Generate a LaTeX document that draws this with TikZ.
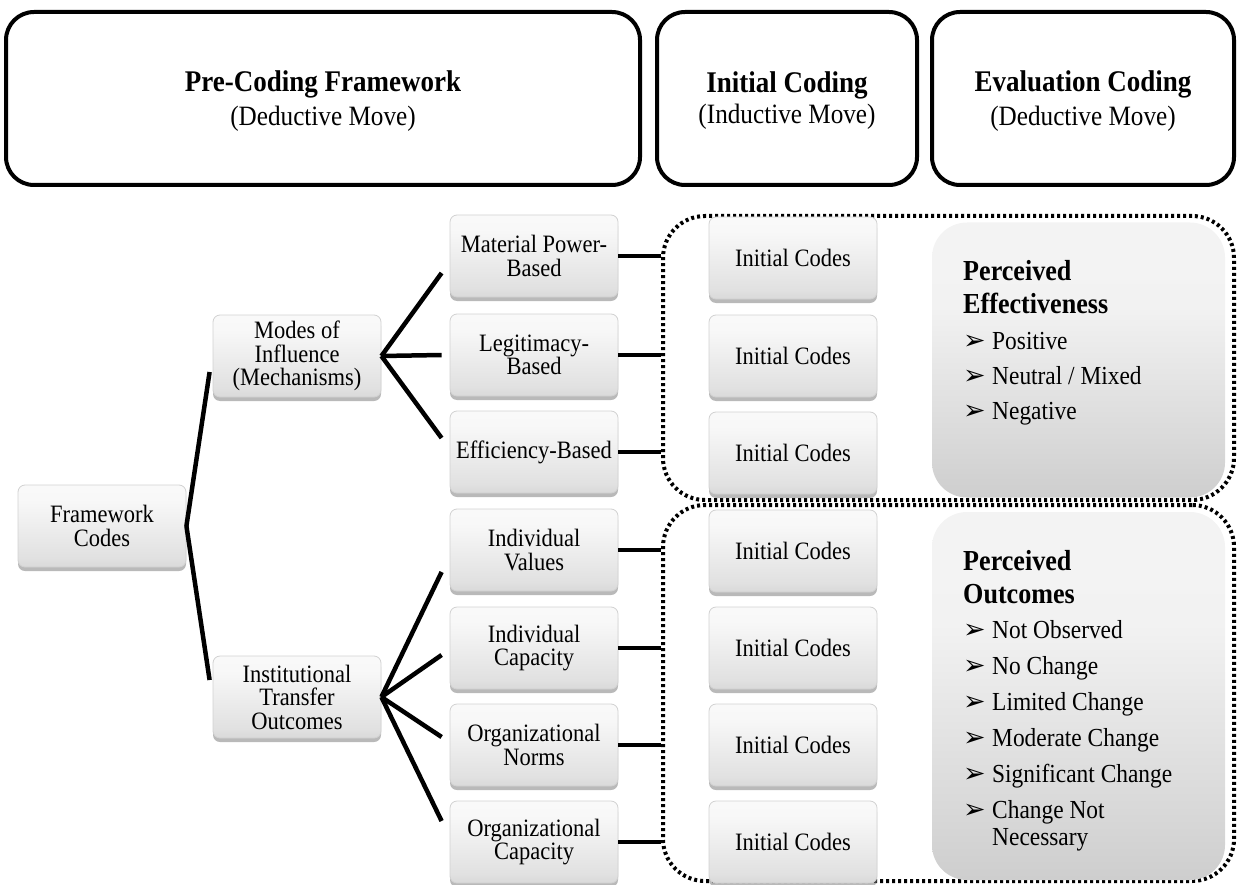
\documentclass[tikz,border=0pt]{standalone}
\usepackage{fontspec}
\setmainfont[FakeStretch=0.9]{Liberation Serif}
\newfontfamily\dejavu{DejaVu Sans}
\usetikzlibrary{shadows,calc}
\pgfdeclareverticalshading{boxfade}{100bp}{color(0bp)=(black!30); color(30bp)=(black!12); color(65bp)=(black!3); color(100bp)=(white)}
\pgfdeclareverticalshading{grayfade}{100bp}{color(0bp)=(black!30); color(35bp)=(black!15); color(60bp)=(black!5); color(100bp)=(black!4)}
\newcommand\bulletarrow{\makebox[29pt][l]{\dejavu\fontsize{27}{27}\selectfont ➢}}
\tikzset{
  hdr/.style={draw, line width=4pt, rounded corners=28pt, align=center, inner sep=0pt},
  cbox/.style={rounded corners=7pt, draw=black!18, line width=0.8pt, shade, shading=boxfade,
    drop shadow={shadow xshift=0pt, shadow yshift=-4pt, fill=black!50, opacity=0.55},
    minimum width=168pt, minimum height=82pt, inner sep=1pt, align=center,
    font=\fontsize{25}{23.5}\selectfont},
  link/.style={line width=4.5pt},
  zone/.style={draw, line width=4pt, dash pattern=on 3pt off 3pt, rounded corners=42pt, inner sep=0pt},
  evalbox/.style={rounded corners=35pt, shade, shading=grayfade, inner sep=0pt},
  ttl/.style={anchor=base west, inner sep=0pt, font=\fontsize{29}{29}\selectfont\bfseries},
  itm/.style={anchor=base west, inner sep=0pt, font=\fontsize{26}{26}\selectfont},
}
\begin{document}
\begin{tikzpicture}[x=1pt,y=-1pt]
\useasboundingbox (0,0) rectangle (1238,885);

% header boxes
\node[hdr, minimum width=634pt, minimum height=173pt, font=\fontsize{28}{34}\selectfont] (h1) at (323,98.5)
  {{\fontsize{30}{34}\selectfont\bfseries\rule{0pt}{26pt}Pre-Coding Framework}\\(Deductive Move)};
\node[hdr, minimum width=260pt, minimum height=173pt, font=\fontsize{28}{31}\selectfont] (h2) at (787,98.5)
  {{\fontsize{30}{31}\selectfont\bfseries\rule{0pt}{25pt}Initial Coding}\\(Inductive Move)};
\node[hdr, minimum width=302pt, minimum height=173pt, font=\fontsize{28}{34}\selectfont] (h3) at (1083,98.5)
  {{\fontsize{30}{34}\selectfont\bfseries\rule{0pt}{26pt}Evaluation Coding}\\(Deductive Move)};

% dotted zones
\node[zone, minimum width=571pt, minimum height=284pt] (up) at (948.5,358) {};
\node[zone, minimum width=571pt, minimum height=376pt] (lo) at (948.5,693) {};

% evaluation boxes
\node[evalbox, minimum width=293pt, minimum height=275pt] (ev1) at (1078.5,360) {};
\node[evalbox, minimum width=293pt, minimum height=368pt] (ev2) at (1078.5,696) {};

\node[ttl] (t1a) at (963,280) {Perceived};
\node[ttl] (t1b) at (963,313) {Effectiveness};
\node[itm] (i1a) at (963,349) {\bulletarrow Positive};
\node[itm] (i1b) at (963,384) {\bulletarrow Neutral / Mixed};
\node[itm] (i1c) at (963,419) {\bulletarrow Negative};

\node[ttl] (t2a) at (963,570) {Perceived};
\node[ttl] (t2b) at (963,603) {Outcomes};
\node[itm] (i2a) at (963,638) {\bulletarrow Not Observed};
\node[itm] (i2b) at (963,674) {\bulletarrow No Change};
\node[itm] (i2c) at (963,710) {\bulletarrow Limited Change};
\node[itm] (i2d) at (963,746) {\bulletarrow Moderate Change};
\node[itm] (i2e) at (963,782) {\bulletarrow Significant Change};
\node[itm] (i2f) at (963,818) {\bulletarrow Change Not};
\node[itm] (i2g) at (992,845) {Necessary};

% tree
\node[cbox] (fc) at (102,526) {Framework\\Codes};
\node[cbox] (mod) at (297,356) {Modes of\\Influence\\(Mechanisms)};
\node[cbox] (ito) at (297,697) {Institutional\\Transfer\\Outcomes};

\node[cbox] (mp) at (534,256) {Material Power-\\Based};
\node[cbox] (lg) at (534,355) {Legitimacy-\\Based};
\node[cbox] (ef) at (534,452) {Efficiency-Based};
\node[cbox] (iv) at (534,550) {Individual\\Values};
\node[cbox] (ic) at (534,648) {Individual\\Capacity};
\node[cbox] (on) at (534,745) {Organizational\\Norms};
\node[cbox] (oc) at (534,842) {Organizational\\Capacity};

\foreach \n/\yy in {c1/258,c2/356,c3/453,c4/551,c5/648,c6/745,c7/842}
  \node[cbox] (\n) at (793,\yy) {Initial Codes};

% connectors
\draw[link] (fc.east) -- ($(mod.west)+(-3,16)$);
\draw[link] (fc.east) -- ($(ito.west)+(-3,-17)$);
\draw[link] (mod.east) -- ($(mp.west)+(-8,17)$);
\draw[link] (mod.east) -- ($(lg.west)+(-8,0)$);
\draw[link] (mod.east) -- ($(ef.west)+(-8,-14)$);
\draw[link] (ito.east) -- ($(iv.west)+(-8,22)$);
\draw[link] (ito.east) -- ($(ic.west)+(-8,7)$);
\draw[link] (ito.east) -- ($(on.west)+(-8,-8)$);
\draw[link] (ito.east) -- ($(oc.west)+(-8,-21)$);
\foreach \n in {mp,lg,ef} \draw[link] (\n.east) -- (\n.east -| up.west);
\foreach \n in {iv,ic,on,oc} \draw[link] (\n.east) -- (\n.east -| lo.west);
\end{tikzpicture}
\end{document}
